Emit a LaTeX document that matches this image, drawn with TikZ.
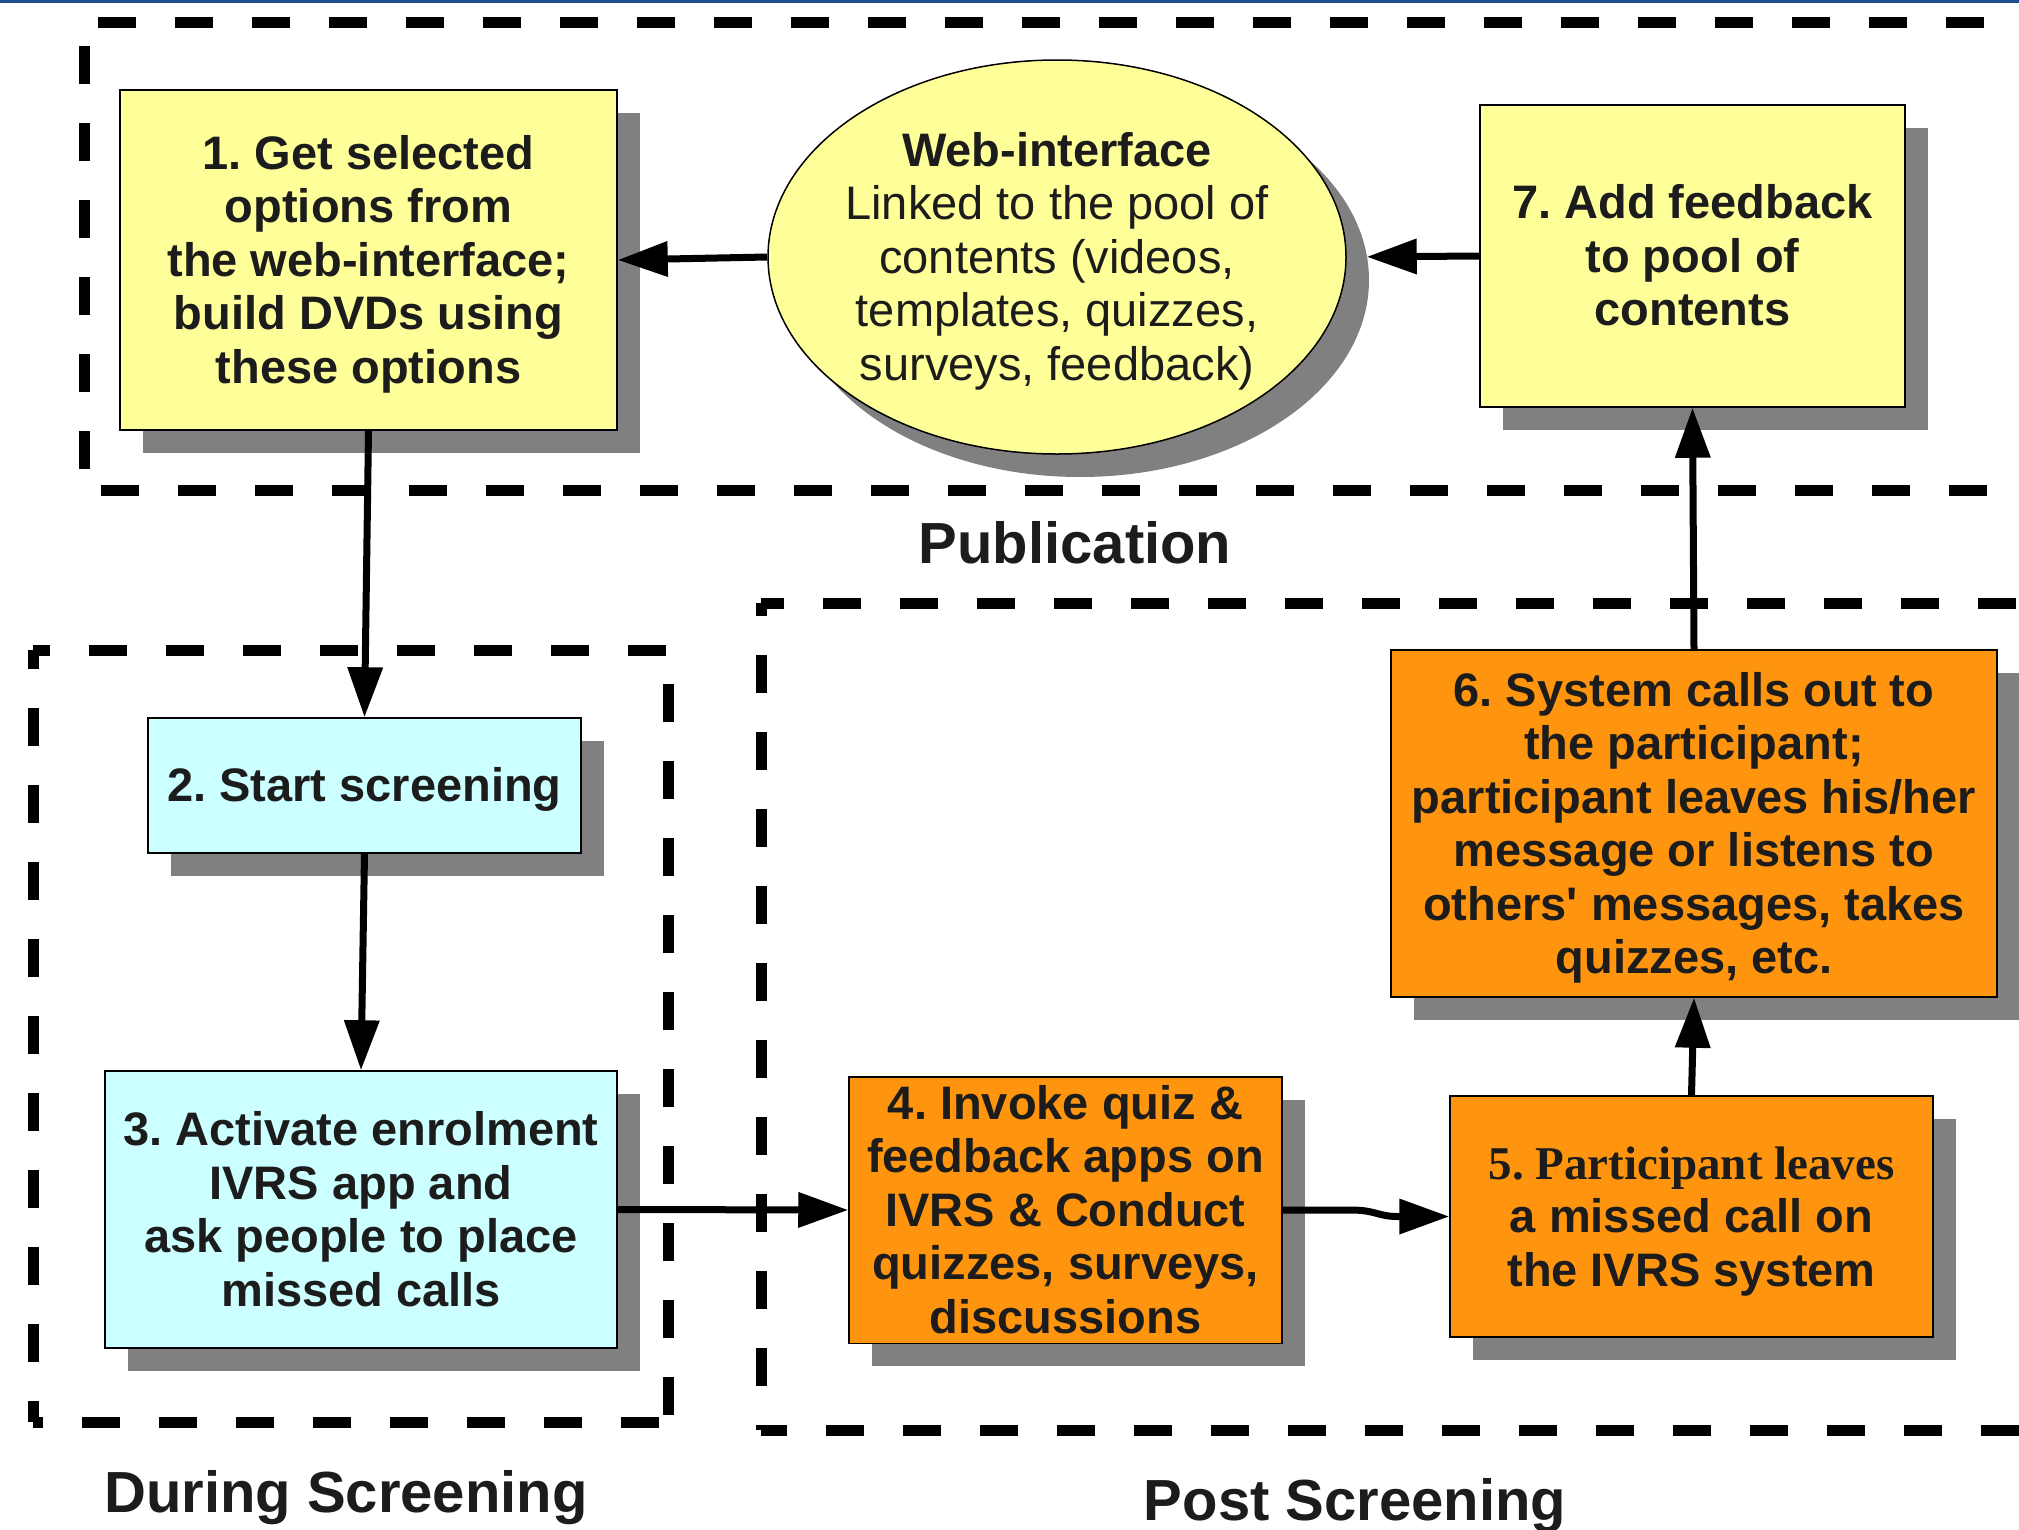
\documentclass[tikz,border=0pt]{standalone}
\usepackage{fontspec}
\setmainfont{Liberation Sans}
\newfontfamily\serifbold{Liberation Serif}
\usetikzlibrary{arrows.meta,shapes.geometric,shadows}
\definecolor{boxyellow}{HTML}{FFFF99}
\definecolor{boxcyan}{HTML}{CCFFFF}
\definecolor{boxorange}{HTML}{FF950E}
\definecolor{shadowgray}{HTML}{808080}
\definecolor{txt}{HTML}{1C1C1C}
\definecolor{topblue}{HTML}{1F4E8C}
\newcommand\topstrut{\rule{0pt}{42.5pt}}
\newcommand\botstrut{\rule[-10pt]{0pt}{10pt}}
\newcommand\straightquote{\XeTeXglyph\XeTeXglyphindex "quotesingle"\relax}
\frenchspacing
\begin{document}
\begin{tikzpicture}[x=1pt,y=-1pt,
  boxfont/.style={font=\fontsize{47}{53.5}\selectfont\bfseries},
  shadowed/.style={drop shadow={shadow xshift=23pt, shadow yshift=-23pt, opacity=1, fill=shadowgray}},
  box/.style={draw=black, line width=1.5pt, rectangle, inner sep=0pt, align=center,
              text=txt, boxfont, shadowed},
  dashline/.style={line width=11pt, dash pattern=on 38pt off 39pt},
  arr/.style={line width=7pt, draw=black, -{Triangle[length=50pt,width=34pt]}},
  phase/.style={font=\fontsize{58}{66}\selectfont\bfseries, text=txt, anchor=base, inner sep=0pt}
]
\useasboundingbox (0,0) rectangle (2019,1529);
\clip (0,0) rectangle (2019,1529);

% top rule
\fill[topblue] (0,0) rectangle (2019,2.5);

% Publication frame
\draw[dashline, dash phase=63pt] (84,22) -- (2060,22);
\draw[dashline, dash phase=53pt] (84,22) -- (84,490);
\draw[dashline, dash phase=60pt] (84,490) -- (2060,490);

% During Screening frame
\draw[dashline, dash phase=21pt] (33,650) -- (668,650);
\draw[dashline, dash phase=19pt] (33,650) -- (33,1422);
\draw[dashline, dash phase=28pt] (33,1422) -- (668,1422);
\draw[dashline, dash phase=43pt] (668,650) -- (668,1422);

% Post Screening frame
\draw[dashline, dash phase=15pt] (761,603) -- (2060,603);
\draw[dashline, dash phase=25pt] (761,603) -- (761,1430);
\draw[dashline, dash phase=12pt] (761,1430) -- (2060,1430);

% Nodes
\node[box, fill=boxyellow, minimum width=497pt, minimum height=340pt] (b1) at (368.5,260)
  {\topstrut1. Get selected\\options from\\the web-interface;\\build DVDs using\\these options\botstrut};

\node[ellipse, draw=black, line width=1.5pt, fill=boxyellow, minimum width=578pt,
      minimum height=394pt, inner sep=0pt, shadowed] (ell) at (1057,257) {};
\node[text=txt, align=center, font=\fontsize{47}{53.5}\selectfont, inner sep=0pt] (elltxt) at (ell.center)
  {\topstrut{\bfseries Web-interface}\\Linked to the pool of\\contents (videos,\\templates, quizzes,\\surveys, feedback)\botstrut};

\node[box, fill=boxyellow, minimum width=425pt, minimum height=302pt] (b7) at (1692.5,256)
  {\topstrut7. Add feedback\\to pool of\\contents\botstrut};

\node[box, fill=boxcyan, minimum width=433pt, minimum height=135pt] (b2) at (364.5,785.5)
  {\topstrut2. Start screening\botstrut};

\node[box, fill=boxcyan, minimum width=512pt, minimum height=277pt] (b3) at (361,1209.5)
  {\topstrut3. Activate enrolment\\IVRS app and\\ask people to place\\missed calls\botstrut};

\node[box, fill=boxorange, minimum width=433pt, minimum height=262pt] (b4) at (1065.5,1210)
  {\topstrut4. Invoke quiz \&\\feedback apps on\\IVRS \& Conduct\\quizzes, surveys,\\discussions\botstrut};

\node[box, fill=boxorange, minimum width=483pt, minimum height=241pt] (b5) at (1691.5,1216.5)
  {\topstrut{\serifbold 5. Participant leaves}\\a missed call on\\the IVRS system\botstrut};

\node[box, fill=boxorange, minimum width=606pt, minimum height=347pt] (b6) at (1694,823.5)
  {\topstrut6. System calls out to\\the participant;\\participant leaves his/her\\message or listens to\\others\straightquote{} messages, takes\\quizzes, etc.\botstrut};

% Connectors
\draw[arr] (ell.west) -- (b1.east);
\draw[arr, shorten >=20pt] (b7.west) -- (ell.east);
\draw[arr] (b1.south) -- (b2.north);
\draw[arr] (b2.south) -- (b3.north);
\draw[arr] (b3.east) -- (b4.west);
\draw[arr, line join=round] (b4.east) -- ++(68,0) .. controls +(25,0) and +(-20,0) .. ++(47,6.5) -- (b5.west);
\draw[arr] (b5.north) -- (b6.south);
\draw[arr] (b6.north) -- (b7.south);

% Phase labels
\node[phase] (lpub) at (1075,563) {Publication};
\node[phase] (ldur) at (346,1512) {During Screening};
\node[phase] (lpost) at (1355,1520) {Post Screening};
\end{tikzpicture}
\end{document}
